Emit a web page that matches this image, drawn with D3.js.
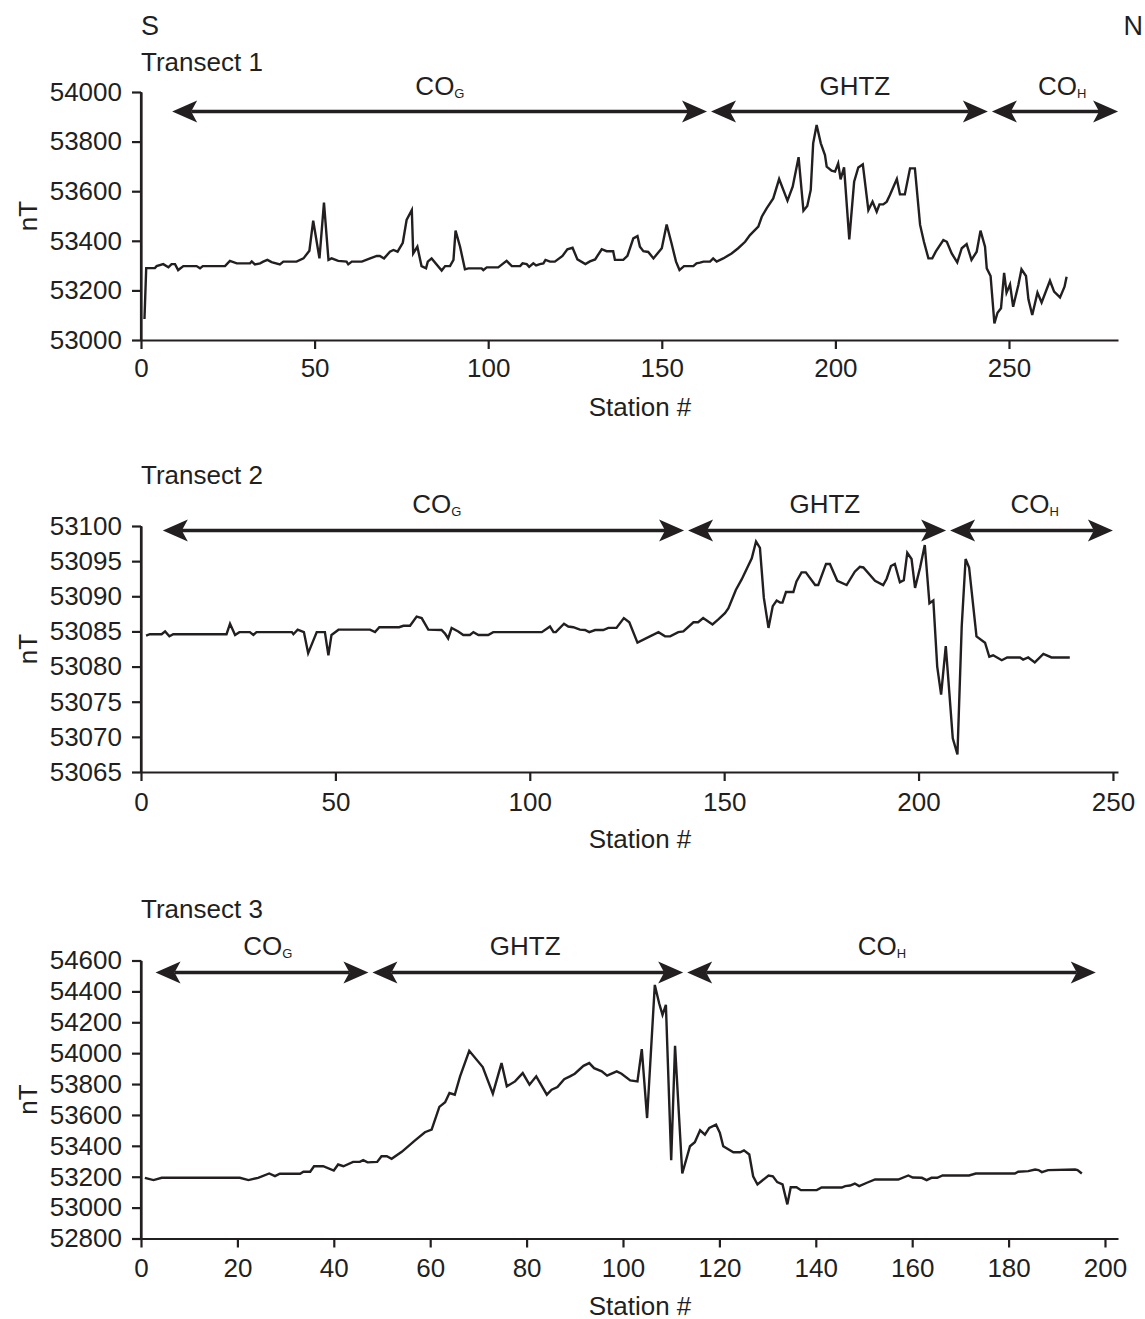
<!DOCTYPE html>
<html><head><meta charset="utf-8">
<script src="https://cdn.jsdelivr.net/npm/d3@7"></script>
<style>
body{margin:0;background:#fff;}
text{font-family:"Liberation Sans",Arial,Helvetica,sans-serif;fill:#231f20;}
</style></head>
<body>
<svg id="chart" width="1145" height="1319"></svg>
<script>
// ---------- DATA ----------
const t1Station = [1,1.5,4,4.5,6.4,7.9,8.8,9.8,10.7,12.2,16,17,17.8,24.2,25.6,27.6,31.4,31.9,32.8,34.3,35.2,36.4,37.6,40,41,44.8,46.8,48.5,49.6,51.4,52.7,54,54.9,56.8,59.2,59.7,60.7,63.6,66,67.9,68.8,70,71.7,72.7,73.9,75.4,76.5,78,78.4,79.6,80.8,82.1,82.6,83.7,86.6,87.6,89,90,90.6,91.9,93.3,94.3,98.1,98.6,99.6,102.9,105.3,106.8,109.2,109.9,111.1,111.8,113,113.8,114.9,115.9,116.5,117.8,119.2,121.4,122.8,124.3,125.7,128,129.3,130.8,132.7,134.1,136,136.5,138.9,140.1,141.8,143,143.7,144.7,146.1,147.6,150,151.4,152.8,154.1,155.1,156.4,159.1,160,161,162,163.9,164.8,165.8,167.7,170.1,172,174,175.4,177.8,178.8,180.2,182.1,183.8,186.2,187.7,189.4,190.8,191.9,192.9,193.6,194.6,195.8,197,197.5,198.9,199.9,200.8,201.5,202.5,204,205.4,206.6,207.9,209.5,210.7,211.9,212.7,213.8,214.8,215.7,217.7,218.6,220,221.5,222.9,224.4,225.5,226.8,227.9,228.9,231.1,232.1,233.5,235.1,236.4,237.8,239.2,240.7,241.8,243.1,243.6,244.7,245.8,246.7,247.7,248.6,249.3,250.3,251.2,252.7,253.6,254.9,255.6,256.7,258.2,259.4,261.8,263,264.7,266,266.6];
const t1Value = [53085,53290,53290,53298,53306,53293,53306,53306,53282,53298,53298,53289,53298,53298,53319,53309,53309,53317,53305,53309,53316,53323,53314,53305,53316,53316,53329,53360,53481,53329,53554,53323,53329,53319,53316,53305,53316,53316,53329,53339,53339,53329,53356,53363,53356,53392,53484,53524,53349,53376,53298,53289,53316,53329,53280,53298,53298,53323,53441,53376,53285,53289,53289,53282,53293,53293,53319,53298,53298,53309,53306,53295,53309,53301,53306,53309,53323,53316,53316,53339,53366,53372,53325,53306,53317,53325,53366,53358,53358,53323,53323,53339,53410,53419,53376,53358,53355,53329,53370,53466,53390,53316,53282,53298,53298,53309,53312,53316,53316,53329,53316,53329,53349,53370,53396,53423,53457,53497,53531,53571,53649,53562,53618,53737,53521,53540,53605,53793,53867,53793,53746,53699,53683,53679,53712,53648,53696,53406,53638,53696,53708,53524,53558,53517,53547,53547,53558,53585,53649,53587,53587,53692,53692,53464,53396,53329,53329,53356,53403,53396,53349,53313,53370,53387,53323,53356,53441,53376,53289,53258,53067,53110,53128,53271,53191,53224,53134,53222,53285,53258,53164,53101,53191,53151,53239,53195,53172,53215,53255];

const t2Station = [1.3,2.3,5.3,6.2,7.3,8.3,22,22.9,24.2,25.3,28,28.9,29.7,38.8,39.2,40.3,41.9,43,45.2,47.3,48.2,49,50.8,58.9,60.2,61.3,66.4,67.5,69.2,70.9,72.2,73.9,77.3,78.2,79,79.9,81.6,82.9,84.6,85.5,86.8,89.3,90.6,103.1,105.2,106.1,106.7,108.8,109.9,111.2,112.9,114.2,115.3,116.8,118.9,120.2,122.3,124.2,125.6,127.7,133.1,134.8,136.1,138.2,139.5,142.1,143.3,144.6,147,148.5,150.2,151.1,153,154.5,157.1,158.2,159.2,160.2,161.4,162.5,163.5,164.4,165,165.9,167.8,168.6,169.9,171,173.4,174.2,176.2,177.2,179.1,181.5,183.6,184.9,185.8,188.8,190.9,191.8,192.9,193.9,195.2,196.2,197.1,198.2,199.1,200.4,201.6,202.8,203.8,204.8,205.8,207,207.6,208.8,210,211.1,212.1,213,214.9,217.1,218.2,219.2,221.4,222.8,226.1,226.9,228.2,229.9,232.1,234.2,238.9];
const t2Value = [53084.4,53084.6,53084.6,53085.0,53084.3,53084.6,53084.6,53086.1,53084.5,53084.9,53084.9,53084.5,53084.9,53084.9,53084.6,53085.25,53084.9,53081.9,53084.9,53084.9,53081.6,53084.5,53085.25,53085.25,53084.9,53085.6,53085.6,53085.8,53085.8,53087.1,53086.9,53085.25,53085.2,53084.7,53084.0,53085.5,53085.0,53084.5,53084.5,53084.9,53084.5,53084.5,53084.9,53084.9,53085.7,53084.9,53084.9,53086.1,53085.7,53085.6,53085.25,53085.2,53084.9,53085.2,53085.2,53085.5,53085.5,53086.9,53086.3,53083.4,53084.9,53084.3,53084.3,53084.9,53085.0,53086.3,53086.3,53086.9,53086.0,53086.7,53087.6,53088.3,53090.9,53092.4,53095.4,53097.8,53096.9,53089.8,53085.5,53088.6,53089.4,53089.1,53089.1,53090.6,53090.6,53092.1,53093.4,53093.4,53091.6,53091.6,53094.6,53094.6,53092.2,53091.6,53093.5,53094.2,53094.1,53092.2,53091.6,53092.5,53094.3,53094.6,53092.0,53092.3,53096.2,53095.3,53091.2,53094.1,53097.3,53089.0,53089.4,53080.0,53076.0,53082.9,53078.6,53069.8,53067.5,53085.7,53095.3,53094.1,53084.3,53083.4,53081.4,53081.6,53080.9,53081.3,53081.3,53081.0,53081.3,53080.6,53081.8,53081.3,53081.3];

const t3Station = [0.8,2.6,4.3,20.5,22.3,24.3,26.6,27.8,28.8,33,33.7,35.1,35.9,37.8,40,40.9,42,44,45.4,46.1,47,49,49.9,51,52,54.1,56.8,58.9,60.3,61.9,63.1,64,65.1,66.2,68.1,70.9,73,74.8,75.9,77.6,79.2,80.6,82,84.2,85.2,86.4,87.8,89,90,91.8,93,94,95.6,96.7,98.7,99.7,101.5,103,103.9,105,106.6,107.5,108.2,108.9,110,110.8,112.3,113.9,114.9,116,117,117.9,119.3,120.1,120.8,122.9,124.3,125.1,126.2,127,127.9,130.2,131.1,132,133.1,134.1,134.8,136,136.9,140.2,141.2,145.4,146.1,147.1,148.1,149,150.6,152.3,157.1,159.2,160.1,162,163,164,165.2,166.3,171.8,173.2,181.3,182,184.1,185.5,186.2,186.9,188.2,193.8,194.3,195.2];
const t3Value = [53193,53178,53193,53193,53178,53193,53221,53204,53219,53219,53232,53232,53268,53268,53240,53279,53268,53296,53296,53307,53293,53296,53333,53333,53316,53361,53434,53488,53505,53652,53682,53742,53731,53850,54015,53910,53738,53936,53785,53817,53871,53796,53850,53731,53763,53781,53832,53850,53867,53918,53936,53903,53882,53854,53882,53867,53824,53817,54026,53580,54442,54323,54248,54313,53307,54048,53221,53397,53423,53501,53473,53516,53537,53484,53397,53358,53358,53371,53344,53203,53150,53208,53203,53165,53150,53021,53132,53132,53113,53113,53130,53130,53139,53143,53156,53139,53161,53182,53182,53208,53195,53193,53178,53193,53193,53208,53208,53221,53221,53232,53236,53247,53243,53230,53243,53247,53243,53221];

// tick labels
const t1XTicks = [0,50,100,150,200,250];
const t1YTicks = [53000,53200,53400,53600,53800,54000];
const t2XTicks = [0,50,100,150,200,250];
const t2YTicks = [53065,53070,53075,53080,53085,53090,53095,53100];
const t3XTicks = [0,20,40,60,80,100,120,140,160,180,200];
const t3YTicks = [52800,53000,53200,53400,53600,53800,54000,54200,54400,54600];

// zones (station units): boundaries and label centres
const zoneNames1 = [["CO","G"],["GHTZ",""],["CO","H"]];
const zoneBounds1 = [8.4,163.6,244.5,282];
const zoneLabelAt1 = [86.1,205.6,265.3];
const zoneNames2 = [["CO","G"],["GHTZ",""],["CO","H"]];
const zoneBounds2 = [5.1,140.2,207.6,250.5];
const zoneLabelAt2 = [76.1,175.9,229.9];
const zoneNames3 = [["CO","G"],["GHTZ",""],["CO","H"]];
const zoneBounds3 = [2.6,47.6,112.9,198.5];
const zoneLabelAt3 = [26.3,79.7,153.7];

const titles = ["Transect 1","Transect 2","Transect 3"];

// ---------- LAYOUT ----------
const ink = "#231f20";
const svg = d3.select("#chart");
const left = 141, right = 1118;

const panels = [
  {title:titles[0], st:t1Station, v:t1Value, xMax:281.4, yDom:[53000,54000], xT:t1XTicks, yT:t1YTicks,
   top:92, bottom:340, titleY:71, arrowY:111.5, labelY:95, zb:zoneBounds1, zn:zoneNames1, zl:zoneLabelAt1, tickPad:10},
  {title:titles[1], st:t2Station, v:t2Value, xMax:251.3, yDom:[53065,53100], xT:t2XTicks, yT:t2YTicks,
   top:526, bottom:772, titleY:484, arrowY:530.5, labelY:513, zb:zoneBounds2, zn:zoneNames2, zl:zoneLabelAt2, tickPad:12},
  {title:titles[2], st:t3Station, v:t3Value, xMax:202.7, yDom:[52800,54600], xT:t3XTicks, yT:t3YTicks,
   top:960.5, bottom:1238.5, titleY:918, arrowY:972.5, labelY:955, zb:zoneBounds3, zn:zoneNames3, zl:zoneLabelAt3, tickPad:11}
];

svg.append("text").attr("x",left).attr("y",35).attr("font-size",27).text("S");
svg.append("text").attr("x",1143).attr("y",35).attr("font-size",27).attr("text-anchor","end").text("N");

panels.forEach(p => {
  const g = svg.append("g");
  const x = d3.scaleLinear().domain([0,p.xMax]).range([left,right]);
  const y = d3.scaleLinear().domain(p.yDom).range([p.bottom,p.top]);

  // axes
  const xa = g.append("g").attr("transform",`translate(0,${p.bottom})`)
    .call(d3.axisBottom(x).tickValues(p.xT).tickFormat(d3.format("d")).tickSize(9).tickSizeOuter(0).tickPadding(p.tickPad));
  const ya = g.append("g").attr("transform",`translate(${left},0)`)
    .call(d3.axisLeft(y).tickValues(p.yT).tickFormat(d3.format("d")).tickSize(9).tickSizeOuter(0).tickPadding(10));
  [xa,ya].forEach(a=>{
    a.selectAll("path,line").attr("stroke",ink).attr("stroke-width",2.2);
    a.selectAll("text").attr("font-size",26).attr("fill",ink).style("font-family","'Liberation Sans',Arial,sans-serif");
  });
  g.append("line").attr("x1",left).attr("x2",left).attr("y1",p.top).attr("y2",p.bottom).attr("stroke",ink).attr("stroke-width",2.2);

  // axis titles
  g.append("text").attr("x",640).attr("y",p.bottom+76).attr("font-size",26).attr("text-anchor","middle").text("Station #");
  g.append("text").attr("transform",`translate(37,${(p.top+p.bottom)/2}) rotate(-90)`).attr("font-size",26).attr("text-anchor","middle").text("nT");
  g.append("text").attr("x",left).attr("y",p.titleY).attr("font-size",26).text(p.title);

  // data line
  const pts = p.st.map((s,i)=>[s,p.v[i]]);
  g.append("path").datum(pts)
    .attr("d",d3.line().x(d=>x(d[0])).y(d=>y(d[1])))
    .attr("fill","none").attr("stroke",ink).attr("stroke-width",2.4).attr("stroke-linejoin","miter");

  // zone arrows
  const ay = p.arrowY, L = 25, H = 11, N = 19;
  for (let i=0;i<p.zn.length;i++){
    const x0 = x(p.zb[i])+2, x1 = x(p.zb[i+1])-2;
    g.append("line").attr("x1",x0+N).attr("x2",x1-N).attr("y1",ay).attr("y2",ay).attr("stroke",ink).attr("stroke-width",3.6);
    g.append("path").attr("d",`M${x0},${ay}L${x0+L},${ay-H}L${x0+N},${ay}L${x0+L},${ay+H}Z`).attr("fill",ink);
    g.append("path").attr("d",`M${x1},${ay}L${x1-L},${ay-H}L${x1-N},${ay}L${x1-L},${ay+H}Z`).attr("fill",ink);
    const t = g.append("text").attr("x",x(p.zl[i])).attr("y",p.labelY).attr("font-size",26).attr("text-anchor","middle");
    t.append("tspan").text(p.zn[i][0]);
    if (p.zn[i][1]) t.append("tspan").attr("font-size",13).attr("dy",3).text(p.zn[i][1]);
  }
});
</script>
</body></html>
